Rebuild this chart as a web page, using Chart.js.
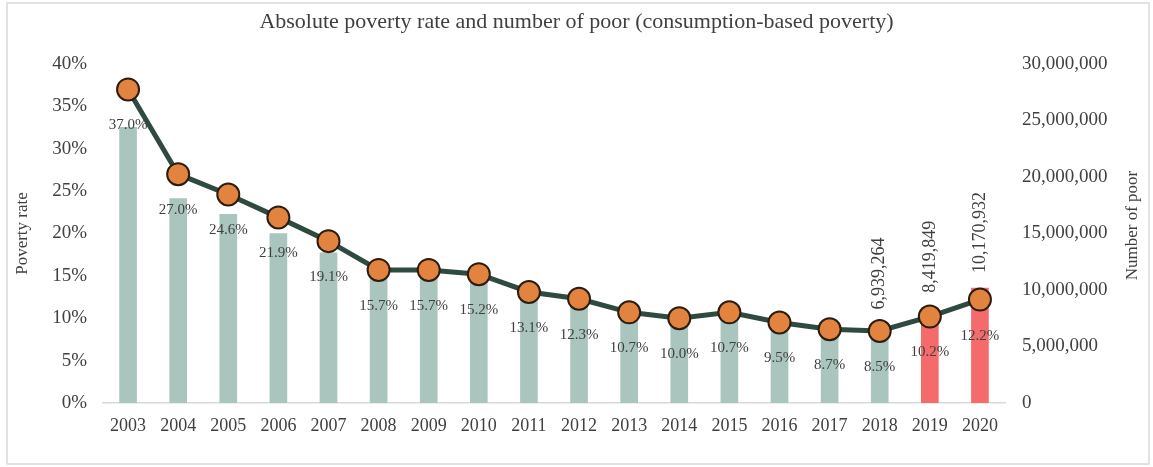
<!DOCTYPE html>
<html>
<head>
<meta charset="utf-8">
<script src="https://cdn.jsdelivr.net/npm/chart.js@4.4.0/dist/chart.umd.min.js"></script>
<style>
  html, body { margin: 0; padding: 0; background: #fff; }
  #wrap { width: 1153px; height: 467px; position: relative; }
</style>
</head>
<body>
<div id="wrap"><canvas id="myChart" width="1153" height="467"></canvas></div>
<script>
const years = ['2003', '2004', '2005', '2006', '2007', '2008', '2009', '2010', '2011',
               '2012', '2013', '2014', '2015', '2016', '2017', '2018', '2019', '2020'];
const povertyRate = [37.0, 27.0, 24.6, 21.9, 19.1, 15.7, 15.7, 15.2, 13.1,
                     12.3, 10.7, 10.0, 10.7, 9.5, 8.7, 8.5, 10.2, 12.2];
const numberOfPoor = [24400000, 18100000, 16700000, 15000000, 13300000, 11100000, 11200000, 11000000, 9650000,
                      9200000, 8100000, 7700000, 8400000, 7500000, 7000000, 6939264, 8419849, 10170932];
const labelledYears = ['2018', '2019', '2020'];
const highlightYears = ['2019', '2020'];
const leftTicks = [0, 5, 10, 15, 20, 25, 30, 35, 40];
const rightTicks = [0, 5000000, 10000000, 15000000, 20000000, 25000000, 30000000];

const serif = '"Liberation Serif", "DejaVu Serif", serif';
const textColor = '#404040';

const labelsPlugin = {
    id: 'valueLabels',
    afterDatasetsDraw(chart) {
        const ctx = chart.ctx;
        const lineMeta = chart.getDatasetMeta(0);
        const barMeta = chart.getDatasetMeta(1);
        ctx.save();
        ctx.fillStyle = textColor;
        ctx.font = '15px ' + serif;
        ctx.textAlign = 'center';
        ctx.textBaseline = 'middle';
        lineMeta.data.forEach((pt, i) => {
            ctx.fillText(povertyRate[i].toFixed(1) + '%', pt.x, pt.y + 36);
        });
        ctx.font = '18px ' + serif;
        ctx.textAlign = 'left';
        barMeta.data.forEach((bar, i) => {
            if (!labelledYears.includes(years[i])) return;
            ctx.save();
            ctx.translate(bar.x, bar.y - 15);
            ctx.rotate(-Math.PI / 2);
            ctx.fillText(numberOfPoor[i].toLocaleString('en-US'), 0, 0);
            ctx.restore();
        });
        ctx.restore();
    },
    afterDraw(chart) {
        const ctx = chart.ctx;
        const area = chart.chartArea;
        ctx.save();
        // right axis title, reading bottom to top
        ctx.fillStyle = textColor;
        ctx.font = '17px ' + serif;
        ctx.textAlign = 'center';
        ctx.textBaseline = 'middle';
        ctx.translate(1133, (area.top + area.bottom) / 2 - 8);
        ctx.rotate(-Math.PI / 2);
        ctx.fillText('Number of poor', 0, 0);
        ctx.restore();

        ctx.save();
        ctx.strokeStyle = '#d9d9d9';
        ctx.lineWidth = 1.5;
        ctx.strokeRect(7, 3, 1142, 461);
        ctx.restore();
    }
};

const ctx = document.getElementById('myChart').getContext('2d');
new Chart(ctx, {
    data: {
        labels: years,
        datasets: [{
            type: 'line',
            label: 'Poverty rate',
            data: povertyRate,
            yAxisID: 'y',
            borderColor: '#2f4a3e',
            borderWidth: 5,
            pointRadius: 11,
            pointBackgroundColor: '#e2843f',
            pointBorderColor: '#2b1d12',
            pointBorderWidth: 2,
            tension: 0,
            order: 0
        }, {
            type: 'bar',
            label: 'Number of poor',
            data: numberOfPoor,
            yAxisID: 'y1',
            backgroundColor: years.map(y => highlightYears.includes(y) ? '#f56b6b' : '#a9c5bd'),
            barThickness: 17,
            order: 1
        }]
    },
    options: {
        responsive: false,
        animation: false,
        layout: { padding: 0 },
        plugins: {
            legend: { display: false },
            tooltip: { enabled: false },
            title: {
                display: true,
                text: 'Absolute poverty rate and number of poor (consumption-based poverty)',
                color: textColor,
                font: { family: serif, size: 22, weight: 'normal' },
                padding: { top: 9, bottom: 28.6 }
            }
        },
        scales: {
            x: {
                grid: { display: false, drawTicks: false },
                border: { color: '#d9d9d9', width: 1.5 },
                ticks: { color: textColor, font: { family: serif, size: 18 }, padding: 12, maxRotation: 0 },
                afterFit(scale) { scale.height = 64; }
            },
            y: {
                position: 'left',
                min: 0,
                max: 40,
                afterBuildTicks(scale) { scale.ticks = leftTicks.map(v => ({ value: v })); },
                grid: { display: false, drawTicks: false },
                border: { display: false },
                ticks: { color: textColor, font: { family: serif, size: 19 }, padding: 16, callback: v => v + '%' },
                title: { display: true, text: 'Poverty rate', color: textColor, font: { family: serif, size: 17 }, padding: 12 },
                afterFit(scale) { scale.width = 103; }
            },
            y1: {
                position: 'right',
                min: 0,
                max: 30000000,
                afterBuildTicks(scale) { scale.ticks = rightTicks.map(v => ({ value: v })); },
                grid: { display: false, drawTicks: false },
                border: { display: false },
                ticks: { color: textColor, font: { family: serif, size: 19 }, padding: 17, callback: v => v.toLocaleString('en-US') },
                title: { display: false },
                afterFit(scale) { scale.width = 148; }
            }
        }
    },
    plugins: [labelsPlugin]
});
</script>
</body>
</html>
